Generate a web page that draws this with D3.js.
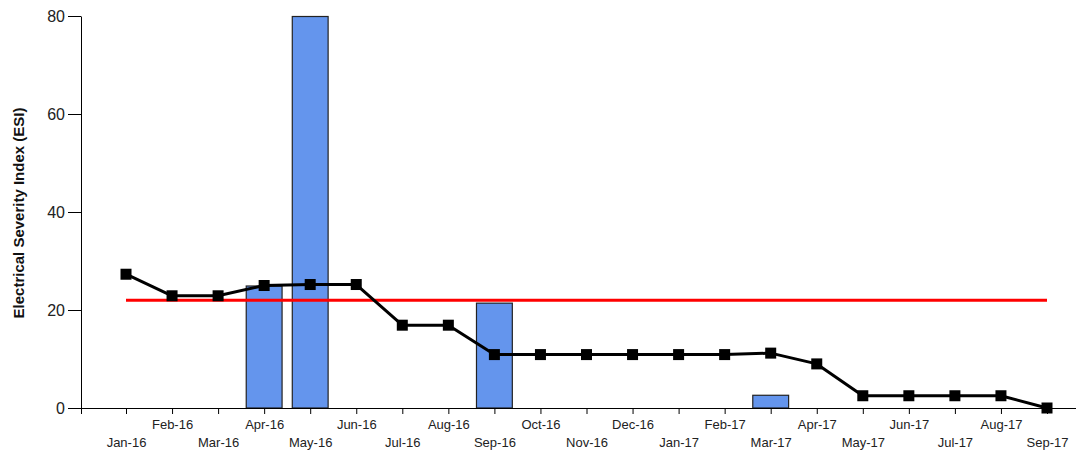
<!DOCTYPE html>
<html>
<head>
<meta charset="utf-8">
<script src="https://cdn.jsdelivr.net/npm/d3@7"></script>
<style>
  body { margin: 0; background: #fff; }
  svg { display: block; font-family: "DejaVu Sans", sans-serif; }
</style>
</head>
<body>
<div id="chart"></div>
<script>
// Data

const months = [
	'Jan-16', 'Feb-16', 'Mar-16', 'Apr-16', 'May-16', 'Jun-16', 'Jul-16',
	'Aug-16', 'Sep-16', 'Oct-16', 'Nov-16', 'Dec-16', 'Jan-17', 'Feb-17',
	'Mar-17', 'Apr-17', 'May-17', 'Jun-17', 'Jul-17', 'Aug-17', 'Sep-17',
];

// monthly ESI (black line)
const esi = [
	27.3, 22.9, 22.9, 25.0, 25.2, 25.2, 16.9, 16.9, 10.9, 10.9, 10.9, 10.9,
	10.9, 10.9, 11.2, 9.0, 2.5, 2.5, 2.5, 2.5, 0,
];

// event bars (only months that have one)
const barMonths = ['Apr-16', 'May-16', 'Sep-16', 'Mar-17'];
const barValues = [25.0, 80, 21.5, 2.7];

// target line
const target = 22;

const yTicks = [0, 20, 40, 60, 80];

// Constants

const width = 1076;
const height = 453;
const margin = { top: 16, right: 0, bottom: 45, left: 81 };

const x = d3
	.scalePoint()
	.domain(months)
	.range([126, 1047]);

const y = d3
	.scaleLinear()
	.domain([0, 80])
	.range([height - margin.bottom, margin.top]);

const barWidth = x.step() * 0.8;

const svg = d3
	.select('#chart')
	.append('svg')
	.attr('width', width)
	.attr('height', height);

// bars
svg
	.append('g')
	.attr('fill', '#6495ed')
	.attr('stroke', '#222')
	.attr('stroke-width', 1.2)
	.selectAll('rect')
	.data(barMonths.map((m, i) => ({ m, v: barValues[i] })))
	.join('rect')
	.attr('x', (d) => x(d.m) - barWidth / 2 + 0.5)
	.attr('y', (d) => y(d.v) + 0.5)
	.attr('width', barWidth - 1)
	.attr('height', (d) => y(0) - y(d.v) - 0.5);

// target line
svg
	.append('line')
	.attr('x1', x(months[0]))
	.attr('x2', x(months[months.length - 1]))
	.attr('y1', y(target))
	.attr('y2', y(target))
	.attr('stroke', '#ff0000')
	.attr('stroke-width', 3);

// ESI line
const line = d3
	.line()
	.x((d, i) => x(months[i]))
	.y((d) => y(d));

svg
	.append('path')
	.datum(esi)
	.attr('fill', 'none')
	.attr('stroke', '#000')
	.attr('stroke-width', 3)
	.attr('stroke-linejoin', 'round')
	.attr('d', line);

svg
	.append('g')
	.selectAll('rect')
	.data(esi)
	.join('rect')
	.attr('x', (d, i) => x(months[i]) - 5.5)
	.attr('y', (d) => y(d) - 5.5)
	.attr('width', 11)
	.attr('height', 11)
	.attr('fill', '#000');

// x axis
const xAxis = (g) =>
	g
		.attr('transform', `translate(0,${y(0)})`)
		.call(d3.axisBottom(x).tickSize(6).tickSizeOuter(0))
		.call((g) => g.select('.domain').remove())
		.call((g) =>
			g
				.selectAll('.tick text')
				.attr('y', (d, i) => (i % 2 ? 12 : 30))
				.attr('font-size', 13)
				.attr('fill', '#222')
		)
		.call((g) =>
			g
				.append('line')
				.attr('x1', margin.left)
				.attr('x2', width)
				.attr('stroke', '#000')
				.attr('shape-rendering', 'crispEdges')
		)
		.call((g) =>
			g
				.append('line')
				.attr('x1', margin.left + 0.5)
				.attr('x2', margin.left + 0.5)
				.attr('y2', 6)
				.attr('stroke', '#000')
		);

// y axis
const yAxis = (g) =>
	g
		.attr('transform', `translate(${margin.left},0)`)
		.call(d3.axisLeft(y).tickValues(yTicks).tickSize(13).tickSizeOuter(0))
		.call((g) =>
			g
				.selectAll('.tick text')
				.attr('font-size', 16)
				.attr('fill', '#222')
		)
		.call((g) =>
			g
				.append('text')
				.attr('transform', `translate(${19 - margin.left},${213}) rotate(-90)`)
				.attr('dy', '0.35em')
				.attr('text-anchor', 'middle')
				.attr('font-size', 15)
				.attr('font-weight', 'bold')
				.attr('fill', '#111')
				.text('Electrical Severity Index (ESI)')
		);

svg.append('g').call(xAxis);
svg.append('g').call(yAxis);
</script>
</body>
</html>
